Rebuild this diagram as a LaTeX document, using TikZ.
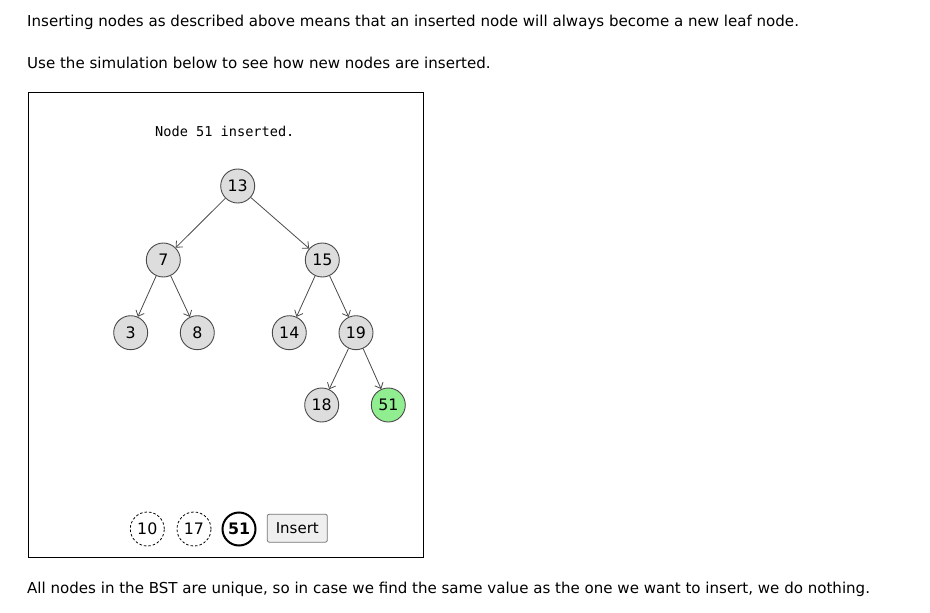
\documentclass[tikz,border=0pt]{standalone}
\usepackage{fontspec}
\setmainfont{DejaVu Sans}
\newfontfamily\monofont{DejaVu Sans Mono}
\usetikzlibrary{arrows.meta}
\definecolor{nodegray}{HTML}{DDDDDD}
\definecolor{nodegreen}{HTML}{90EE90}
\definecolor{edgecol}{HTML}{4A4A4A}
\definecolor{btnfill}{HTML}{EFEFEF}
\definecolor{btnline}{HTML}{767676}
\tikzset{
  bodytext/.style={anchor=base west, inner sep=0pt, font=\fontsize{15.05}{16}\selectfont},
  treenode/.style={circle, draw=edgecol, line width=0.9pt, fill=nodegray, minimum size=34pt, inner sep=0pt, font=\fontsize{15.8}{16}\selectfont},
  newnode/.style={treenode, fill=nodegreen},
  edge/.style={draw=edgecol, line width=0.8pt, -{Straight Barb[length=5pt,width=9pt]}},
  pending/.style={circle, draw=black, dashed, dash pattern=on 2.5pt off 2pt, line width=0.8pt, minimum size=34pt, inner sep=0pt, font=\fontsize{15.8}{16}\selectfont},
  current/.style={circle, draw=black, line width=2pt, minimum size=33pt, inner sep=0pt, font=\fontsize{15.8}{16}\selectfont\bfseries},
  button/.style={draw=btnline, fill=btnfill, rounded corners=2pt, line width=0.8pt, minimum width=60pt, minimum height=28pt, inner sep=0pt, font=\fontsize{15}{16}\selectfont}
}
\begin{document}
\begin{tikzpicture}[x=1pt,y=-1pt]
\useasboundingbox[fill=white] (0,0) rectangle (930,613);
\node[bodytext] (t1) at (27,27) {Inserting nodes as described above means that an inserted node will always become a new leaf node.};
\node[bodytext] (t2) at (27,68) {Use the simulation below to see how new nodes are inserted.};
\node[draw=black, line width=0.9pt, minimum width=395pt, minimum height=465pt, inner sep=0pt, anchor=north west] (frame) at (28,92) {};
\node[anchor=base west, inner sep=0pt, font=\monofont\fontsize{13.6}{15}\selectfont] (status) at (155,136) {Node 51 inserted.};
\node[treenode] (n13) at (237.7,186) {13};
\node[treenode] (n7) at (163.3,260) {7};
\node[treenode] (n15) at (322.3,260) {15};
\node[treenode] (n3) at (130.7,332.7) {3};
\node[treenode] (n8) at (197.3,332.7) {8};
\node[treenode] (n14) at (289.3,332.7) {14};
\node[treenode] (n19) at (356,332.7) {19};
\node[treenode] (n18) at (321.7,405) {18};
\node[newnode] (n51) at (388.3,405) {51};
\draw[edge] (n13) -- (n7);
\draw[edge] (n13) -- (n15);
\draw[edge] (n7) -- (n3);
\draw[edge] (n7) -- (n8);
\draw[edge] (n15) -- (n14);
\draw[edge] (n15) -- (n19);
\draw[edge] (n19) -- (n18);
\draw[edge] (n19) -- (n51);
\node[pending] (p10) at (147.3,529) {10};
\node[pending] (p17) at (194,529) {17};
\node[current] (c51) at (239,529) {51};
\node[button] (insert) at (297.3,528.2) {Insert};
\node[bodytext] (t3) at (27,593) {All nodes in the BST are unique, so in case we find the same value as the one we want to insert, we do nothing.};
\end{tikzpicture}
\end{document}
